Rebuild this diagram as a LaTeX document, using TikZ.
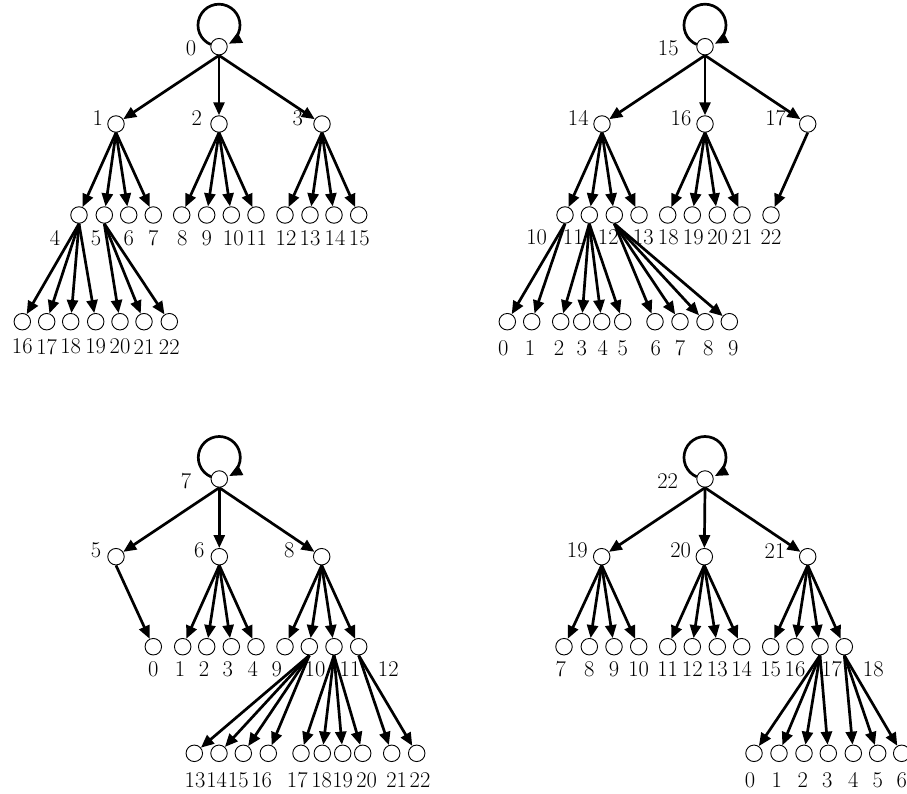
\documentclass[tikz,border=0pt]{standalone}
\usetikzlibrary{arrows.meta}
\begin{document}
\begin{tikzpicture}[x=1pt,y=1pt,
  vtx/.style={circle,draw,line width=0.9pt,fill=white,minimum size=16.5pt,inner sep=0pt},
  lbl/.style={inner sep=0pt,font=\fontsize{22.5}{27}\selectfont},
  arr/.style={line width=2.7pt,-{Triangle[length=13pt,width=11pt]}},
  selfloop/.style={arr},
  % self-loop above a root, from its upper left round to its upper right
  pics/rootloop/.style={code={\draw[selfloop] (-8.22,2.17) arc[start angle=247,end angle=-62,radius=21];}}]
\useasboundingbox (0,0) rectangle (907,-794);

% ---------- tree rooted at 0 ----------
\node[vtx] (a0) at (219,-46.7) {};
\node[lbl] (la0) at (191,-48.2) {0};
\foreach \n/\x/\lx in {1/116/97.7, 2/219/196.7, 3/322/297.7}
  {\node[vtx] (a\n) at (\x,-124) {}; \node[lbl] (la\n) at (\lx,-118.3) {\n};}
\foreach \n/\x/\lx in {4/79/55, 5/104.3/96, 6/128.7/128.7, 7/153.3/153.3,
    8/181.7/182.3, 9/206.7/206.7, 10/231.3/233.3, 11/256/256.7,
    12/285/286, 13/310/310, 14/334/335, 15/358.7/359.3}
  {\node[vtx] (a\n) at (\x,-215) {}; \node[lbl] (la\n) at (\lx,-238.3) {\n};}
\foreach \n/\x in {16/22.3, 17/46.7, 18/70.7, 19/95.7, 20/120, 21/144, 22/169.3}
  {\node[vtx] (a\n) at (\x,-321.7) {}; \node[lbl] (la\n) at (\x,-346.7) {\n};}
\foreach \p/\c in {0/1,0/2,0/3,1/4,1/5,1/6,1/7,2/8,2/9,2/10,2/11,
    3/12,3/13,3/14,3/15,4/16,4/17,4/18,4/19,5/20,5/21,5/22}
  \draw[arr] (a\p.south) -- (a\c);
\pic at (a0.center) {rootloop};

% ---------- tree rooted at 15 ----------
\node[vtx] (b15) at (705,-46.7) {};
\node[lbl] (lb15) at (668.3,-48.2) {15};
\foreach \n/\x/\lx in {14/602/578.3, 16/705/681, 17/807.7/775.7}
  {\node[vtx] (b\n) at (\x,-124) {}; \node[lbl] (lb\n) at (\lx,-118.3) {\n};}
\foreach \n/\x/\lx in {10/565/536.7, 11/589.3/573.3, 12/614.3/608.3, 13/639/643.3,
    18/667.7/668.3, 19/692.3/693.3, 20/717.3/717.7, 21/742/742, 22/771/771}
  {\node[vtx] (b\n) at (\x,-215) {}; \node[lbl] (lb\n) at (\lx,-237.3) {\n};}
\foreach \n/\x/\lx in {0/507.3/503.3, 1/531.7/530, 2/560.7/559, 3/581.7/581.7,
    4/601.7/602.7, 5/622.7/622.7, 6/655/655.7, 7/680/680, 8/705/708.3, 9/729.3/733.3}
  {\node[vtx] (b\n) at (\x,-321.7) {}; \node[lbl] (lb\n) at (\lx,-348.3) {\n};}
\foreach \p/\c in {15/14,15/16,15/17,14/10,14/11,14/12,14/13,16/18,16/19,16/20,16/21,
    17/22,10/0,10/1,11/2,11/3,11/4,11/5,12/6,12/7,12/8,12/9}
  \draw[arr] (b\p.south) -- (b\c);
\pic at (b15.center) {rootloop};

% ---------- tree rooted at 7 ----------
\node[vtx] (c7) at (219.3,-479) {};
\node[lbl] (lc7) at (186,-481) {7};
\foreach \n/\x/\lx in {5/116/96, 6/219.3/199.3, 8/321.7/289.3}
  {\node[vtx] (c\n) at (\x,-556.7) {}; \node[lbl] (lc\n) at (\lx,-550.7) {\n};}
\foreach \n/\x/\lx in {0/153.3/153.3, 1/182.7/180, 2/206.7/204, 3/231.3/227.7,
    4/256/252.7, 9/285/276.7, 10/309.3/315, 11/334/350, 12/358.7/388.3}
  {\node[vtx] (c\n) at (\x,-646.7) {}; \node[lbl] (lc\n) at (\lx,-669.3) {\n};}
\foreach \n/\x/\lx in {13/194.3/195, 14/219/216.7, 15/243.3/238.3, 16/268.3/261.7,
    17/301/297.3, 18/322.3/321.7, 19/342.7/342.7, 20/362.7/366.7, 21/391.7/396.7, 22/416.7/420}
  {\node[vtx] (c\n) at (\x,-753.3) {}; \node[lbl] (lc\n) at (\lx,-780) {\n};}
\foreach \p/\c in {7/5,7/6,7/8,5/0,6/1,6/2,6/3,6/4,8/9,8/10,8/11,8/12,
    10/13,10/14,10/15,10/16,11/17,11/18,11/19,11/20,12/21,12/22}
  \draw[arr] (c\p.south) -- (c\c);
\pic at (c7.center) {rootloop};

% ---------- tree rooted at 22 ----------
\node[vtx] (d22) at (705,-479) {};
\node[lbl] (ld22) at (667.7,-481) {22};
\foreach \n/\x/\lx in {19/601.7/577.3, 20/704.3/680.7, 21/807.7/775}
  {\node[vtx] (d\n) at (\x,-556.7) {}; \node[lbl] (ld\n) at (\lx,-550.7) {\n};}
\foreach \n/\x/\lx in {7/564/560.7, 8/589.3/589.3, 9/614/614, 10/638.7/638.7,
    11/667.7/667.7, 12/692.3/692.3, 13/717.3/717.3, 14/741.7/741.7,
    15/770.7/770.7, 16/795/795, 17/820/831.7, 18/844.3/873.3}
  {\node[vtx] (d\n) at (\x,-646.7) {}; \node[lbl] (ld\n) at (\lx,-669.3) {\n};}
\foreach \n/\x/\lx in {0/754/750, 1/779/776.7, 2/804/802.7, 3/828.3/827.3,
    4/853.3/853.3, 5/877.7/877.7, 6/901.7/901.7}
  {\node[vtx] (d\n) at (\x,-753.3) {}; \node[lbl] (ld\n) at (\lx,-780) {\n};}
\foreach \p/\c in {22/19,22/20,22/21,19/7,19/8,19/9,19/10,20/11,20/12,20/13,20/14,
    21/15,21/16,21/17,21/18,17/0,17/1,17/2,17/3,18/4,18/5,18/6}
  \draw[arr] (d\p.south) -- (d\c);
\pic at (d22.center) {rootloop};
\end{tikzpicture}
\end{document}
